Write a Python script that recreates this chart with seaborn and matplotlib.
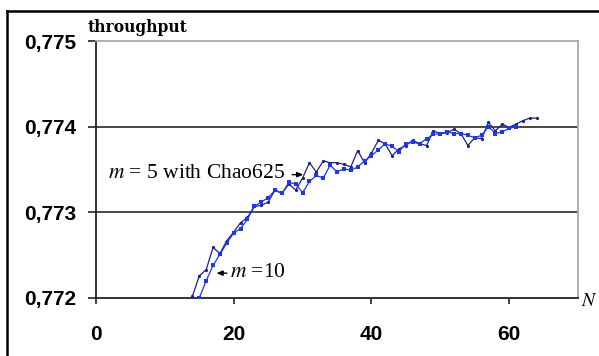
import matplotlib
matplotlib.use("Agg")
import matplotlib.pyplot as plt
import seaborn as sns
import pandas as pd
from matplotlib.lines import Line2D

# ---- data ----
n_m5 = list(range(14, 65))
thr_m5 = [0.77202, 0.77226, 0.77233, 0.77259, 0.77252, 0.77267, 0.77277, 0.77288,
          0.77294, 0.77307, 0.77308, 0.77312, 0.77326, 0.77322, 0.77333, 0.77326,
          0.77340, 0.77358, 0.77347, 0.77360, 0.77358, 0.77358, 0.77356, 0.77353,
          0.77372, 0.77358, 0.77369, 0.77384, 0.77380, 0.77366, 0.77374, 0.77378,
          0.77384, 0.77380, 0.77378, 0.77395, 0.77392, 0.77393, 0.77397, 0.77392,
          0.77378, 0.77387, 0.77386, 0.77405, 0.77395, 0.77403, 0.77399, 0.77403,
          0.77407, 0.77410, 0.77410]
n_m10 = list(range(15, 62))
thr_m10 = [0.77200, 0.77220, 0.77238, 0.77251, 0.77264, 0.77276, 0.77281, 0.77292,
           0.77307, 0.77312, 0.77317, 0.77326, 0.77322, 0.77335, 0.77333, 0.77323,
           0.77336, 0.77343, 0.77340, 0.77355, 0.77347, 0.77351, 0.77349, 0.77353,
           0.77360, 0.77366, 0.77373, 0.77380, 0.77377, 0.77371, 0.77380, 0.77382,
           0.77380, 0.77386, 0.77391, 0.77392, 0.77394, 0.77392, 0.77392, 0.77390,
           0.77387, 0.77390, 0.77400, 0.77392, 0.77394, 0.77398, 0.77400]
series_names = ["m=5 with Chao625", "m=10"]
x_ticks = [0, 20, 40, 60]
y_ticks = [0.772, 0.773, 0.774, 0.775]
y_ticklabels = ["0,772", "0,773", "0,774", "0,775"]

df = pd.concat([
    pd.DataFrame({"N": n_m5, "throughput": thr_m5, "series": series_names[0]}),
    pd.DataFrame({"N": n_m10, "throughput": thr_m10, "series": series_names[1]}),
])

W, H = 599, 356
fig = plt.figure(figsize=(W / 100, H / 100), dpi=100)
ax = fig.add_axes([96 / W, 1 - 298 / H, (578 - 96) / W, (298 - 41) / H])

palette = {series_names[0]: "#1f1f8c", series_names[1]: "#1a35ff"}
sns.lineplot(data=df, x="N", y="throughput", hue="series", style="series",
             palette=palette, markers={series_names[0]: "o", series_names[1]: "s"},
             dashes=False, markersize=2.3, markeredgewidth=0, linewidth=0.9,
             estimator=None, legend=False, ax=ax, zorder=3)

ax.set_xlim(0, 70)
ax.set_ylim(0.772, 0.775)
ax.set_xticks(x_ticks)
ax.set_yticks(y_ticks)
ax.set_yticklabels(y_ticklabels)
ax.set_xlabel("")
ax.set_ylabel("")

for y in y_ticks[1:3]:
    ax.axhline(y, color="#3a3a3a", lw=1.3, zorder=1)

for s in ["left", "bottom"]:
    ax.spines[s].set_color("#222222")
    ax.spines[s].set_linewidth(1.3)
for s in ["top", "right"]:
    ax.spines[s].set_color("#a8a8a8")
    ax.spines[s].set_linewidth(1.3)

ax.tick_params(axis="y", direction="out", length=6, width=1.2, pad=8,
               colors="#222222", labelcolor="black")
ax.tick_params(axis="x", direction="out", length=4.5, width=1.2, pad=15,
               colors="#222222", labelcolor="black")
for lab in ax.get_xticklabels() + ax.get_yticklabels():
    lab.set_fontfamily("Liberation Sans")
    lab.set_fontweight("bold")
    lab.set_fontsize(15)

plt.rcParams["mathtext.fontset"] = "stix"

fig.text(88 / W, 1 - 28 / H, "throughput", fontfamily="DejaVu Serif",
         fontweight="bold", fontsize=11.2, va="center", ha="left")
fig.text(581 / W, 1 - 300 / H, "$N$", fontsize=14, va="center", ha="left")

# annotations
arrow = dict(arrowstyle="-|>,head_length=0.35,head_width=0.15", color="black",
             lw=1.0, shrinkA=0, shrinkB=0)
ax.annotate("", xy=(30.1, 0.77344), xytext=(28.5, 0.77344), arrowprops=arrow)
ax.text(1.8, 0.77345, "$m$ = 5 with Chao625", fontfamily="Liberation Serif",
        fontsize=15.5, va="center", ha="left")
ax.annotate("", xy=(17.5, 0.77229), xytext=(19.0, 0.77229), arrowprops=arrow)
ax.text(19.4, 0.77230, "$m$ =10", fontfamily="Liberation Serif",
        fontsize=15.5, va="center", ha="left")

# outer chart frame
fig.add_artist(Line2D([7 / W, 1.0], [1 - 11 / H, 1 - 11 / H], color="black",
                      lw=1.8, transform=fig.transFigure))
fig.add_artist(Line2D([7 / W, 7 / W], [0.0, 1 - 11 / H], color="black",
                      lw=1.8, transform=fig.transFigure))

fig.savefig("out.png", dpi=100)
